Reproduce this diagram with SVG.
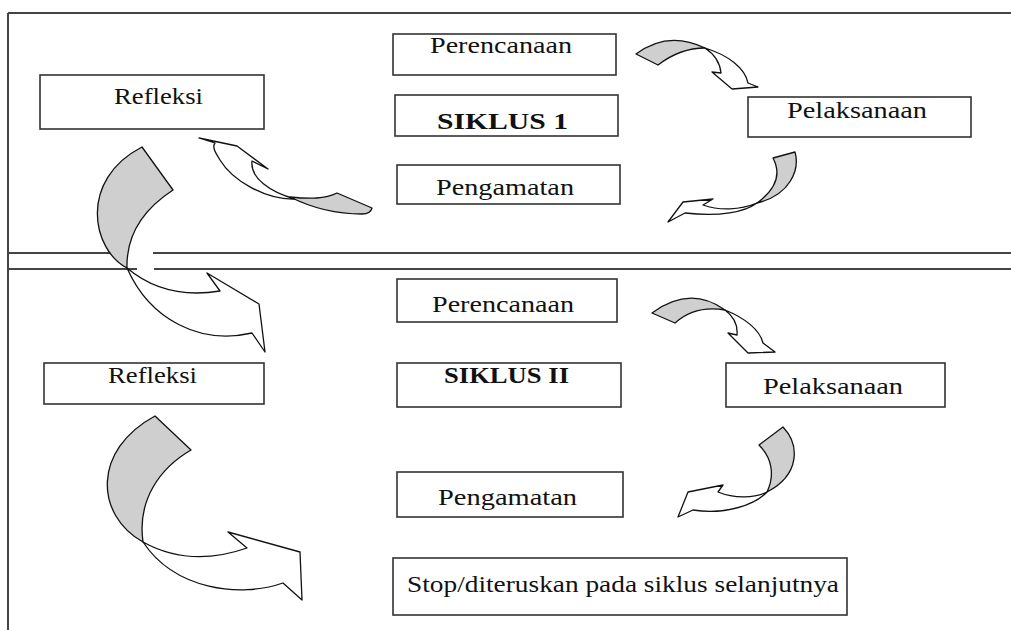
<svg xmlns="http://www.w3.org/2000/svg" width="1011" height="630" viewBox="0 0 1011 630">
<style>
.frame{stroke:#444;stroke-width:2;fill:none}
.box{fill:#fff;stroke:#333;stroke-width:1.6}
text{font-family:'Liberation Serif','Times New Roman',serif;font-size:23px;fill:#111}
.b{font-weight:bold;font-size:24px}
.g{fill:#cfcfcf;stroke:#111;stroke-width:1.3;stroke-linejoin:round}
.w{fill:#fff;stroke:#111;stroke-width:1.3;stroke-linejoin:round}
</style>
<rect width="1011" height="630" fill="#fff"/>
<g id="frame">
<path class="frame" d="M8,13 H1011 M8,13 V630"/>
<path class="frame" d="M8,253 H112 M153,253 H1011 M8,269 H137 M154,269 H1011"/>
</g>
<g id="refleksi1"><rect class="box" x="40" y="75" width="224" height="54"/><text x="114" y="104" textLength="89" lengthAdjust="spacingAndGlyphs">Refleksi</text></g>
<g id="perencanaan1"><rect class="box" x="393" y="34" width="223" height="41"/><text x="430" y="53" textLength="142" lengthAdjust="spacingAndGlyphs">Perencanaan</text></g>
<g id="siklus1"><rect class="box" x="395" y="95" width="223" height="41"/><text class="b" x="437" y="129" textLength="131" lengthAdjust="spacingAndGlyphs">SIKLUS 1</text></g>
<g id="pengamatan1"><rect class="box" x="397" y="165" width="223" height="39"/><text x="436" y="195" textLength="138" lengthAdjust="spacingAndGlyphs">Pengamatan</text></g>
<g id="pelaksanaan1"><rect class="box" x="748" y="97" width="223" height="40"/><text x="787" y="118" textLength="140" lengthAdjust="spacingAndGlyphs">Pelaksanaan</text></g>
<g id="refleksi2"><rect class="box" x="44" y="363" width="220" height="41"/><text x="108" y="383" textLength="89" lengthAdjust="spacingAndGlyphs">Refleksi</text></g>
<g id="perencanaan2"><rect class="box" x="397" y="279" width="220" height="43"/><text x="432" y="312" textLength="142" lengthAdjust="spacingAndGlyphs">Perencanaan</text></g>
<g id="siklus2"><rect class="box" x="397" y="363" width="224" height="44"/><text class="b" x="444" y="383" textLength="125" lengthAdjust="spacingAndGlyphs">SIKLUS II</text></g>
<g id="pelaksanaan2"><rect class="box" x="726" y="363" width="219" height="44"/><text x="763" y="394" textLength="140" lengthAdjust="spacingAndGlyphs">Pelaksanaan</text></g>
<g id="pengamatan2"><rect class="box" x="397" y="472" width="226" height="45"/><text x="438" y="505" textLength="139" lengthAdjust="spacingAndGlyphs">Pengamatan</text></g>
<g id="stop"><rect class="box" x="393" y="558" width="454" height="57"/><text x="407" y="592" textLength="432" lengthAdjust="spacingAndGlyphs">Stop/diteruskan pada siklus selanjutnya</text></g>
<g id="connectors">
<path class="g" d="M636,54 L658,65 Q680,48 705,48 Q668,30 636,54 Z"/>
<path class="w" d="M705,48 C728,55 745,68 748,83 L758,87 L732,89 L712,72 L721,73 C720,62 714,54 705,48 Z"/>
<path class="g" d="M773,158 L795,152 C800,170 790,195 757,203 C775,190 782,175 773,158 Z"/>
<path class="w" d="M757,203 C745,212 720,217 685,213 L668,222 L683,202 L713,199 L703,205 C720,211 740,210 757,203 Z"/>
<path class="w" d="M199,138 L237,146 L268,169 L252,161 C250,178 270,192 295,199 C265,200 232,180 220,160 C215,152 212,147 215,143 Z"/>
<path class="g" d="M290,197 C310,199 325,199 337,193 L372,208 C371,212 368,214 362,214 C335,214 310,207 290,197 Z"/>
<path class="g" d="M142,147 L173,190 C150,205 126,230 127,268 C92,250 78,180 142,147 Z"/>
<path class="w" d="M127,268 Q165,300 220,291 L207,273 L259,304 L265,352 L252,333 C200,345 150,320 127,268 Z"/>
<path class="g" d="M652,313 L675,323 Q695,305 725,310 Q690,285 652,313 Z"/>
<path class="w" d="M725,310 C745,318 760,330 763,343 L775,352 L748,353 L728,333 L737,335 C738,325 733,316 725,310 Z"/>
<path class="g" d="M759,445 L783,427 C800,445 800,475 767,492 C775,475 772,458 759,445 Z"/>
<path class="w" d="M767,492 C755,505 725,515 693,510 L678,517 L688,492 L723,485 L718,492 C735,499 755,498 767,492 Z"/>
<path class="g" d="M155,416 L191,450 C160,468 137,500 143,542 C95,515 92,450 155,416 Z"/>
<path class="w" d="M143,542 Q190,568 247,548 L228,532 L300,552 L302,600 L283,583 C240,598 175,590 143,542 Z"/>
</g>
</svg>
